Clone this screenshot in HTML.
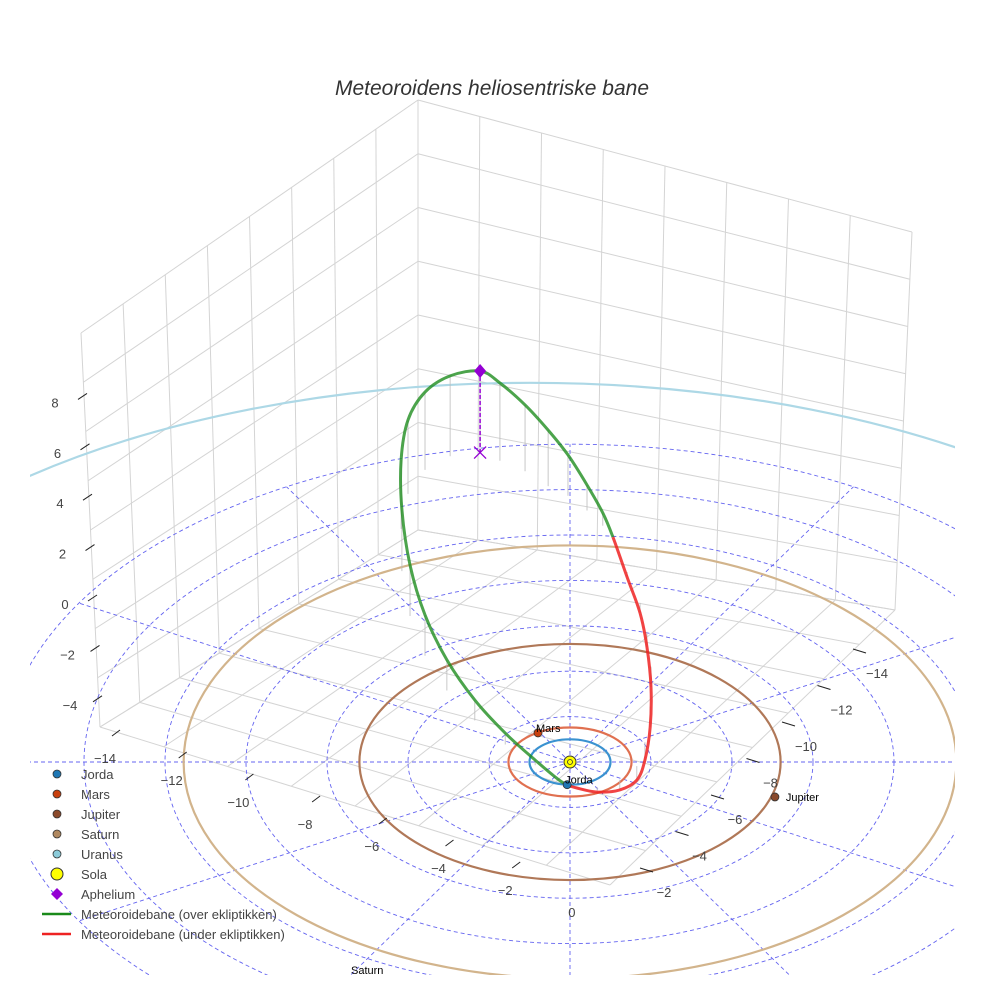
<!DOCTYPE html>
<html><head><meta charset="utf-8">
<style>
html,body{margin:0;padding:0;background:#fff;width:984px;height:984px;overflow:hidden;}
svg{display:block;font-family:"Liberation Sans",sans-serif;}
</style></head>
<body>
<svg id="chart" width="984" height="984" viewBox="0 0 984 984" xmlns="http://www.w3.org/2000/svg">
<text x="492" y="95" text-anchor="middle" font-size="21" font-style="italic" fill="#333">Meteoroidens heliosentriske bane</text>
<g id="box"></g>
<svg x="30" y="0" width="925" height="975" viewBox="30 0 925 975" overflow="hidden"><g id="plot"></g></svg>
<g id="axes"></g>
<g id="legend"></g>
</svg>
<script>
// ---- data ----
const orbitNames = ["Jorda","Mars","Jupiter","Saturn","Uranus"];
const orbitRadii = [1.0, 1.52, 5.2, 9.54, 19.2];
const orbitColors = ["#3a92d0","#e07050","#b07858","#d2b48c","#add8e6"];
const planetX = [-0.07, -0.79, 5.06];
const planetY = [-1.0, 1.28, -1.54];
const planetLabels = ["Jorda","Mars","Jupiter"];
const planetColors = ["#1f77b4","#c8400e","#8b4a2b"];
const greenX = [-2.22,-2.96,-3.58,-4.0,-4.17,-4.15,-3.95,-3.58,-3.04,-2.35,-1.6,-0.86,-0.3,-0.07];
const greenY = [13.63,13.47,12.87,11.81,10.27,8.41,6.43,4.68,3.15,1.83,0.77,-0.14,-0.81,-1.01];
const greenZ = [3.2,3.15,3.05,2.9,2.7,2.4,2.0,1.6,1.2,0.8,0.45,0.2,0.05,0];
const redX = [-0.07,0.17,0.67,1.23,1.65,1.85,1.98,2.0,1.9,1.73,1.41,1.06];
const redY = [-1.01,-1.09,-1.1,-0.78,-0.18,0.87,2.44,4.2,5.74,7.01,8.37,9.91];
const redZ = [0,-0.05,-0.2,-0.4,-0.55,-0.7,-0.8,-0.8,-0.6,-0.4,-0.2,0];
const green2X = [1.06,0.81,0.42,-0.05,-0.54,-1.11,-1.73,-2.22];
const green2Y = [9.91,10.41,11.08,11.73,12.15,12.81,13.27,13.63];
const green2Z = [0,0.5,1.0,1.6,2.2,2.6,3.05,3.2];
const aphX = -2.22, aphY = 13.63, aphZ = 3.2;
const gridRadii = [2,4,6,8,10,12,14];
const spokeAngles = [0,30,60,90,120,150,180,210,240,270,300,330];
const zTicks = [8,6,4,2,0,-2,-4];
const xTicks = [-14,-12,-10,-8,-6,-4,-2,0];
const yTicks = [-14,-12,-10,-8,-6,-4,-2];

// ---- projection ----
const CX=570, CY=762, KX=40.5, KY=22.7, KZ=25.5;
const px=(x)=>CX+KX*x;
const py=(y,z)=>CY-KY*y-KZ*(z||0);
const NS="http://www.w3.org/2000/svg";
function mk(tag,attrs,parent){const e=document.createElementNS(NS,tag);for(const k in attrs)e.setAttribute(k,attrs[k]);parent.appendChild(e);return e;}
const box=document.getElementById('box'), plot=document.getElementById('plot'), axes=document.getElementById('axes'), legend=document.getElementById('legend');

const A=[418,100],B=[81,333],C=[912,232],D=[418,530],E=[100,727],G=[895,610],F=[610,885];
function lerp(p,q,t){return [p[0]+(q[0]-p[0])*t,p[1]+(q[1]-p[1])*t];}
function quadGrid(p00,p10,p11,p01,nu,nv,name){
  for(let i=0;i<=nu;i++){const t=i/nu;const a=lerp(p00,p10,t),b=lerp(p01,p11,t);
    const l=mk('line',{x1:a[0],y1:a[1],x2:b[0],y2:b[1],stroke:'#d4d4d4','stroke-width':1},box);
    }
  for(let j=0;j<=nv;j++){const t=j/nv;const a=lerp(p00,p01,t),b=lerp(p10,p11,t);
    const l=mk('line',{x1:a[0],y1:a[1],x2:b[0],y2:b[1],stroke:'#d4d4d4','stroke-width':1},box);
    }
}
quadGrid(B,A,D,E,8,8,'left-wall');
quadGrid(A,C,G,D,8,8,'right-wall');
quadGrid(E,D,G,F,8,8,'floor');

for(const r of gridRadii){
  const e=mk('ellipse',{cx:CX,cy:CY,rx:KX*r,ry:KY*r,fill:'none',stroke:'#6464f0','stroke-width':0.9,'stroke-dasharray':'4,3'},plot);
  
}
for(const a of spokeAngles){
  const rad=a*Math.PI/180, R=14;
  const l=mk('line',{x1:CX,y1:CY,x2:px(R*Math.cos(rad)),y2:py(R*Math.sin(rad)),stroke:'#6464f0','stroke-width':0.9,'stroke-dasharray':'4,3'},plot);
  
}
orbitRadii.forEach((r,i)=>{
  const fy = i===4 ? 0.87 : 1;
  const fx = i===4 ? 0.98 : 1;
  const e=mk('ellipse',{cx:CX-(i===4?40:0),cy:CY,rx:KX*r*fx,ry:KY*r*fy,fill:'none',stroke:orbitColors[i],'stroke-width':2.2},plot);
  
});
function drops(X,Y,Z){for(let i=0;i<X.length;i++){if(Math.abs(Z[i])<0.01)continue;
  const l=mk('line',{x1:px(X[i]),y1:py(Y[i],Z[i]),x2:px(X[i]),y2:py(Y[i],0),stroke:'#bbb','stroke-width':0.8},plot);
  }}
drops(greenX,greenY,greenZ);drops(redX,redY,redZ);drops(green2X,green2Y,green2Z);

const loop=[], seg=[];
function addPts(X,Y,Z,c){for(let i=0;i<X.length-1;i++){loop.push([px(X[i]),py(Y[i],Z[i])]);seg.push(c);}}
addPts(greenX,greenY,greenZ,'g');addPts(redX,redY,redZ,'r');addPts(green2X,green2Y,green2Z,'g');
const N=loop.length;
function segPath(i){const p0=loop[(i-1+N)%N],p1=loop[i],p2=loop[(i+1)%N],p3=loop[(i+2)%N];
  return `M${p1[0]},${p1[1]} C${p1[0]+(p2[0]-p0[0])/6},${p1[1]+(p2[1]-p0[1])/6} ${p2[0]-(p3[0]-p1[0])/6},${p2[1]-(p3[1]-p1[1])/6} ${p2[0]},${p2[1]}`;}
let dG='',dR='';
for(let i=0;i<N;i++){if(seg[i]==='g')dG+=segPath(i)+' ';else dR+=segPath(i)+' ';}
const g1=mk('path',{d:dG,fill:'none',stroke:'#1a8a1a','stroke-width':3,'stroke-opacity':0.78},plot);

const r1=mk('path',{d:dR,fill:'none',stroke:'#ee2222','stroke-width':3,'stroke-opacity':0.85},plot);


const ad=mk('line',{x1:px(aphX),y1:py(aphY,aphZ),x2:px(aphX),y2:py(aphY,0),stroke:'#9400d3','stroke-width':1.5,'stroke-dasharray':'4,2'},plot);

const ax=px(aphX),ay=py(aphY,aphZ),ay0=py(aphY,0);
const am=mk('path',{d:`M${ax},${ay-7}L${ax+6},${ay}L${ax},${ay+7}L${ax-6},${ay}Z`,fill:'#9400d3'},plot);

const ap=mk('path',{d:`M${ax-6},${ay0-6}L${ax+6},${ay0+6}M${ax+6},${ay0-6}L${ax-6},${ay0+6}`,stroke:'#9400d3','stroke-width':1.3},plot);

const sun=mk('circle',{cx:CX,cy:CY,r:6,fill:'#ffff00',stroke:'#333','stroke-width':1},plot);

mk('circle',{cx:CX,cy:CY,r:2.5,fill:'none',stroke:'#333','stroke-width':0.8},plot);
planetX.forEach((x,i)=>{
  const c=mk('circle',{cx:px(x),cy:py(planetY[i]),r:4,fill:planetColors[i],stroke:'#333','stroke-width':0.8},plot);
  
  const t=mk('text',{x:px(x)+(i===2?11:-2),y:py(planetY[i])+(i===2?4:-1),'font-size':11,fill:'#000'},plot);
  t.textContent=planetLabels[i];
  
});
const st=mk('text',{x:351,y:974,'font-size':11,fill:'#000'},plot);st.textContent='Saturn';


zTicks.forEach(v=>{const y=604-v*25.2;
  const t=mk('text',{x:55+(8-v)*1.25,y:y+5,'font-size':13,fill:'#444','text-anchor':'middle'},axes);
  t.textContent=v<0?'\u2212'+(-v):String(v);
  
  const bx=78+(8-v)*1.25;
  const l=mk('line',{x1:bx,y1:y-3,x2:bx+9,y2:y-9,stroke:'#222','stroke-width':1},axes);
  });
xTicks.forEach((v,i)=>{const lx=105+i*66.7,ly=758+i*22;
  const t=mk('text',{x:lx,y:ly+5,'font-size':13,fill:'#444','text-anchor':'middle'},axes);
  t.textContent=v<0?'\u2212'+(-v):String(v);
  
  if(i<7){const l=mk('line',{x1:lx+7,y1:ly-22,x2:lx+15,y2:ly-28,stroke:'#222','stroke-width':1},axes);
  }});
yTicks.forEach((v,i)=>{const lx=877-i*35.5,ly=673+i*36.5;
  const t=mk('text',{x:lx,y:ly+5,'font-size':13,fill:'#444','text-anchor':'middle'},axes);
  t.textContent='\u2212'+(-v);
  
  const l=mk('line',{x1:lx-24,y1:ly-24,x2:lx-11,y2:ly-20,stroke:'#222','stroke-width':1},axes);
  });

const legNames=["Jorda","Mars","Jupiter","Saturn","Uranus","Sola","Aphelium","Meteoroidebane (over ekliptikken)","Meteoroidebane (under ekliptikken)"];
const legColors=["#1f77b4","#c8400e","#8b4a2b","#b08860","#8ccbd9","#ffff00","#9400d3","#1a8a1a","#ee2222"];
legNames.forEach((n,i)=>{const y=774+i*20;
  const g=mk('g',{},legend);
  
  if(i<5) mk('circle',{cx:57,cy:y,r:4,fill:legColors[i],stroke:'#333','stroke-width':0.8},g);
  else if(i===5) mk('circle',{cx:57,cy:y,r:6,fill:legColors[i],stroke:'#333','stroke-width':1},g);
  else if(i===6) mk('path',{d:`M57,${y-6}L63,${y}L57,${y+6}L51,${y}Z`,fill:legColors[i]},g);
  else mk('line',{x1:42,y1:y,x2:71,y2:y,stroke:legColors[i],'stroke-width':2.5},g);
  const t=mk('text',{x:81,y:y+5,'font-size':13,fill:'#444'},g);t.textContent=n;});
</script>
</body></html>
